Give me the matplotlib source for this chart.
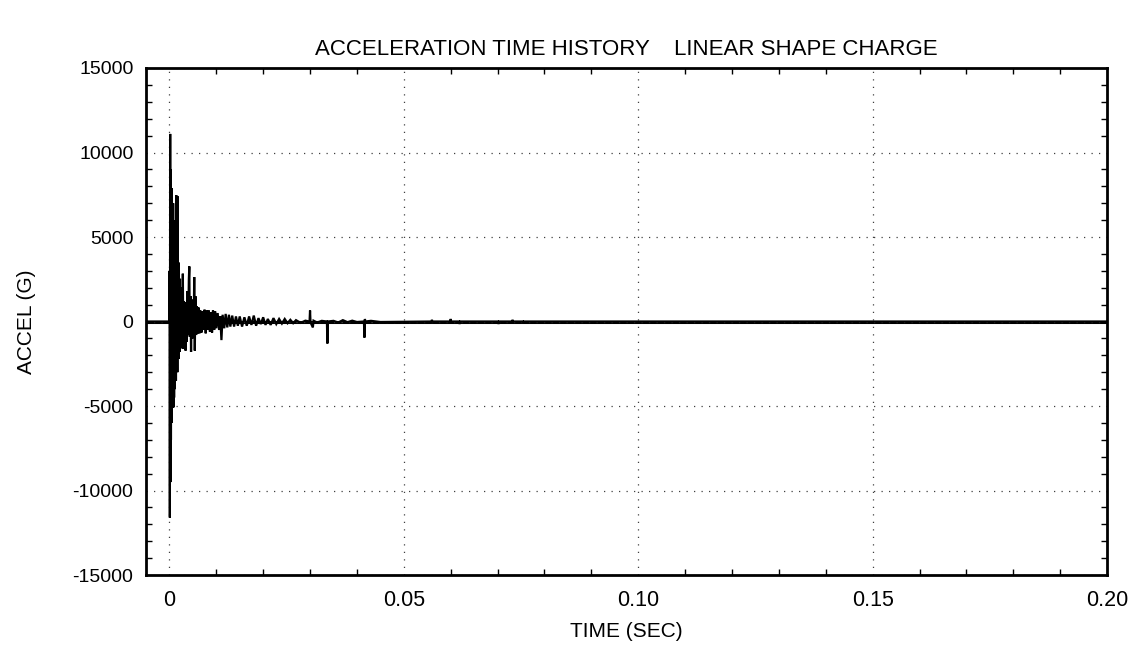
"""Acceleration time history, linear shape charge."""

import matplotlib

matplotlib.use("Agg")

import matplotlib.pyplot as plt
import numpy as np
from matplotlib.ticker import MultipleLocator

plt.rcParams["font.family"] = ["Liberation Sans", "DejaVu Sans"]
plt.rcParams["axes.unicode_minus"] = False

# peaks: time in ms, acceleration in G
time_ms = [
    -5.0, 0.0, 0.05, 0.10, 0.17, 0.22, 0.28, 0.33, 0.39, 0.45, 0.52, 0.58,
    0.66, 0.72, 0.80, 0.86, 0.93, 1.00, 1.07, 1.13, 1.20, 1.27, 1.34, 1.40,
    1.48, 1.55, 1.62, 1.70, 1.78, 1.85, 1.92, 2.00, 2.08, 2.16, 2.25, 2.35,
    2.45, 2.55, 2.65, 2.75, 2.87, 2.97, 3.10, 3.22, 3.35, 3.45, 3.58, 3.70,
    3.85, 4.00, 4.15, 4.25, 4.35, 4.50, 4.62, 4.75, 4.88, 5.00, 5.15, 5.30,
    5.42, 5.55, 5.70, 5.85, 6.00, 6.20, 6.40, 6.60, 6.85, 7.05, 7.30, 7.50,
    7.75, 7.95, 8.20, 8.40, 8.65, 8.85, 9.10, 9.30, 9.55, 9.75, 10.00, 10.30,
    10.60, 10.85, 11.10, 11.35, 11.70, 12.00, 12.35, 12.70, 13.00, 13.40, 13.80,
    14.20, 14.60, 15.00, 15.50, 16.00, 16.50, 17.00, 17.50, 18.00, 18.50, 19.00,
    19.50, 20.00, 20.50, 21.00, 21.60, 22.20, 22.80, 23.40, 24.00, 24.60, 25.20,
    25.80, 26.40, 27.00, 28.00, 29.00, 29.90, 30.00, 30.10, 30.60, 30.75, 31.50,
    32.50, 33.60, 33.70, 33.80, 35.00, 36.00, 37.00, 38.00, 39.00, 40.00, 41.50,
    41.60, 41.70, 41.80, 43.00, 45.00, 55.90, 56.00, 56.10, 59.90, 60.00, 60.10,
    61.80, 61.90, 62.00, 70.10, 70.20, 70.30, 73.10, 73.20, 73.30, 75.40, 75.50,
    75.60, 200.0,
]
accel_g = [
    0, 0, 3000, -11600, 11100, -9500, 9000, -7000, 7900, -6000, 7870, -5100,
    6000, -4800, 7000, -5080, 6000, -4500, 5500, -4000, 6000, -3100, 4500, -3500,
    7470, -2500, 5000, -3000, 7400, -2000, 3500, -2200, 2000, -1800, 2530, -1600,
    1500, -1400, 2000, -1500, 2830, -1620, 1200, -1000, 1150, -1720, 900, -1200,
    1800, -800, 2500, 3260, -900, 1500, -1800, 1300, -1000, 1200, -900, 2630,
    -1720, 1500, -800, 900, -700, 830, -700, 650, -650, 600, -500, 700,
    -700, 650, -500, 650, -600, 550, -650, 650, -500, 600, -400, 500,
    -500, 300, -1100, 400, -400, 450, -350, 400, -300, 350, -300,
    300, -250, 300, -300, 250, -250, 300, -200, 350, -250, 200,
    -150, 250, -200, 150, -200, 200, -150, 150, -120, 150, -100,
    100, -100, 80, -80, 50, 0, 650, -50, -350, 50, -60,
    40, 0, -1300, 0, 40, -60, 80, -40, 50, -30, 0,
    -950, 150, 0, 40, -30, 0, 100, 0, 0, 150, 0,
    0, -150, 0, 0, -150, 0, 0, 100, 0, 0, -80,
    0, 0,
]

t = np.array(time_ms) / 1000.0
a = np.array(accel_g)

fig = plt.figure(figsize=(11.42, 6.66), dpi=100)
ax = fig.add_axes([0.1278, 0.1366, 0.8416, 0.7613])

ax.plot(t, a, color="black", lw=1.6, solid_joinstyle="miter")
ax.axhline(0, color="black", lw=2.2, zorder=1)

ax.set_xlim(-0.005, 0.2)
ax.set_ylim(-15000, 15000)
ax.xaxis.set_major_locator(MultipleLocator(0.05))
ax.xaxis.set_minor_locator(MultipleLocator(0.01))
ax.yaxis.set_major_locator(MultipleLocator(5000))
ax.yaxis.set_minor_locator(MultipleLocator(1000))
ax.set_xticks([0, 0.05, 0.10, 0.15, 0.20])
ax.set_xticklabels(["0", "0.05", "0.10", "0.15", "0.20"])

ax.tick_params(which="both", direction="in", top=True, right=True)
ax.tick_params(axis="x", which="major", length=0, pad=11, labelsize=15.5)
ax.tick_params(axis="y", which="major", length=0, pad=9, labelsize=14)
ax.tick_params(which="minor", length=4, width=1)
ax.grid(True, which="major", color="0.25", linestyle=(0, (1, 5)), lw=0.9)
for s in ax.spines.values():
    s.set_linewidth(2)

ax.set_xlabel("TIME (SEC)", fontsize=15, labelpad=8)
ax.set_ylabel("ACCEL (G)", fontsize=15, labelpad=26)
ax.set_title("ACCELERATION TIME HISTORY    LINEAR SHAPE CHARGE", fontsize=16, pad=9)

fig.savefig("out.png", dpi=100)
plt.close(fig)
